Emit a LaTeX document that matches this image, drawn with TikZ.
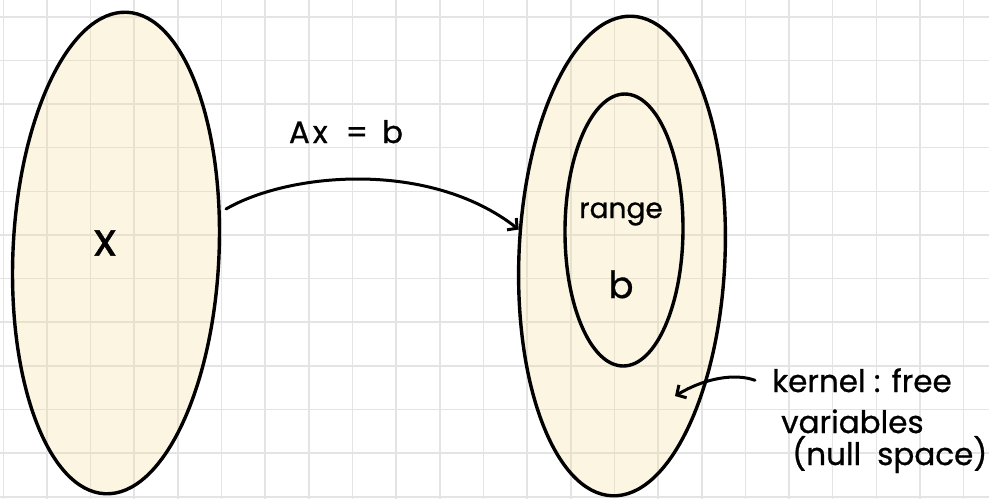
\documentclass[tikz,border=0pt]{standalone}
\usepackage{fontspec}
\setmainfont{Poppins}[FakeBold=0.8]
\usetikzlibrary{shapes.geometric,arrows.meta,calc}
\definecolor{gridgray}{RGB}{228,228,228}
\definecolor{cream}{RGB}{247,219,143}
\tikzset{
  gridline/.style={draw=gridgray,line width=1.6pt},
  setblob/.style={ellipse,draw=black,line width=3.4pt,inner sep=0pt,fill=cream,fill opacity=0.25,draw opacity=1,text opacity=1},
  innerblob/.style={ellipse,draw=black,line width=3.4pt,inner sep=0pt},
  hand/.style={font=\fontsize{31}{36}\selectfont,inner sep=0pt},
  arr/.style={line width=3pt,line cap=round,-{Straight Barb[length=7pt,width=15pt,line width=3pt]}}
}
\begin{document}
\begin{tikzpicture}[x=1pt,y=-1pt]
\useasboundingbox (0,0) rectangle (989,499);
\fill[white] (0,0) rectangle (989,499);
\foreach \i in {0,...,22} \draw[gridline] (3.3+43.65*\i,0) -- (3.3+43.65*\i,499);
\foreach \j in {0,...,11} \draw[gridline] (0,16.7+43.65*\j) -- (989,16.7+43.65*\j);
% sets
\node[setblob,minimum width=206pt,minimum height=482pt,rotate=-2.6] (X) at (116,253) {};
\node[setblob,minimum width=206pt,minimum height=480pt,rotate=-2.4] (Y) at (622,256) {};
\node[innerblob,minimum width=118pt,minimum height=272pt,rotate=-0.4] (R) at (624,230) {};
% labels
\node[hand,font=\fontsize{46}{50}\selectfont] (xl) at (105,243) {x};
\node[hand,font=\fontsize{28}{34}\selectfont,anchor=base] (rl) at (621,218) {range};
\node[hand,font=\fontsize{37}{40}\selectfont,anchor=base] (bl) at (621,298) {b};
\node[hand,anchor=base] (eq) at (346,143) {A\hspace{3pt}x\hspace{18pt}=\hspace{14pt}b};
\node[hand,anchor=base west] (k1) at (772,392) {kernel : free};
\node[hand,anchor=base west] (k2) at (781,433) {variables};
\node[hand,anchor=base west] (k3) at (792,465) {(null\hspace{16pt}space)};
% arrows
\draw[arr] ($(X.center)+(110,-44)$) .. controls (290,172) and (430,160) .. (Y.168);
\coordinate (kt) at (675,396);
\draw[arr] ([xshift=-17pt]k1.west) .. controls (735,373) and (705,378) .. (kt);
\end{tikzpicture}
\end{document}
